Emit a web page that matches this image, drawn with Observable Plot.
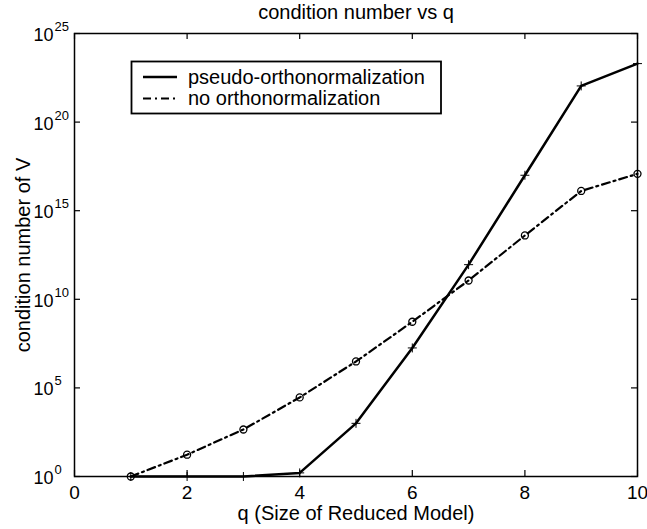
<!DOCTYPE html>
<html><head><meta charset="utf-8">
<script src="https://cdn.jsdelivr.net/npm/d3@7"></script>
<script src="https://cdn.jsdelivr.net/npm/@observablehq/plot@0.6"></script>
<style>
html,body{margin:0;padding:0;background:#fff;}
#chart{width:647px;height:529px;}
</style></head><body><div id="chart"></div>
<script>
// ---- data ----
const q = [1, 2, 3, 4, 5, 6, 7, 8, 9, 10];
const pseudoOrtho = [1, 1, 1, 1.6, 1e3, 1.8e7, 9e11, 1e17, 1.1e22, 2e23];
const noOrtho = [1, 17, 450, 2.9e4, 3.1e6, 5.4e8, 1.15e11, 4e13, 1.3e16, 1.2e17];
const xTicks = [0, 2, 4, 6, 8, 10];
const yTickExponents = [0, 5, 10, 15, 20, 25];
const seriesNames = ["pseudo-orthonormalization", "no orthonormalization"];
const title = "condition number vs q";
const xLabel = "q (Size of Reduced Model)";
const yLabel = "condition number of V";

// ---- derived tables ----
const rowsA = q.map((x, i) => ({q: x, v: pseudoOrtho[i]}));
const rowsB = q.map((x, i) => ({q: x, v: noOrtho[i]}));
const yTicks = yTickExponents.map(e => 10 ** e);

const W = 647, H = 529, mL = 74, mR = 10, mT = 33, mB = 53;
const fw = W - mL - mR, fh = H - mT - mB;
const tickLen = 6;
const font = "'Liberation Sans', Arial, Helvetica, sans-serif";
const dashDot = "8,4,2,4";

const chart = Plot.plot({
  width: W, height: H,
  marginLeft: mL, marginRight: mR, marginTop: mT, marginBottom: mB,
  style: {fontFamily: font, background: "white", color: "black"},
  x: {domain: [0, 10], axis: null},
  y: {type: "log", domain: [1, 1e25], axis: null},
  marks: [
    Plot.line(rowsB, {x: "q", y: "v", stroke: "black", strokeWidth: 2.2, strokeDasharray: dashDot}),
    Plot.dot(rowsB, {x: "q", y: "v", r: 3.5, stroke: "black", strokeWidth: 1.3, fill: "none"}),
    Plot.line(rowsA, {x: "q", y: "v", stroke: "black", strokeWidth: 2.5}),
    Plot.dot(rowsA, {x: "q", y: "v", symbol: "plus", r: 3, stroke: "black", strokeWidth: 1}),
    Plot.frame({stroke: "black", strokeWidth: 1.5}),
    // inside ticks on all four sides
    Plot.tickX(xTicks, {x: d => d, insetTop: fh - tickLen, stroke: "black", strokeWidth: 1.2}),
    Plot.tickX(xTicks, {x: d => d, insetBottom: fh - tickLen, stroke: "black", strokeWidth: 1.2}),
    Plot.tickY(yTicks, {y: d => d, insetRight: fw - tickLen, stroke: "black", strokeWidth: 1.2}),
    Plot.tickY(yTicks, {y: d => d, insetLeft: fw - tickLen, stroke: "black", strokeWidth: 1.2}),
    // x tick labels
    Plot.text(xTicks, {x: d => d, frameAnchor: "bottom", text: d => String(d), textAnchor: "middle", lineAnchor: "bottom", dy: 22, fontSize: 19}),
    // y tick labels: 10 with superscript exponent
    Plot.text(yTickExponents, {y: e => 10 ** e, frameAnchor: "left", text: () => "10", textAnchor: "end", lineAnchor: "bottom", dx: -21, dy: 7.5, fontSize: 18}),
    Plot.text(yTickExponents, {y: e => 10 ** e, frameAnchor: "left", text: e => String(e), textAnchor: "start", lineAnchor: "bottom", dx: -20, dy: -2.5, fontSize: 13}),
    // title and axis labels
    Plot.text([title], {frameAnchor: "top", text: d => d, textAnchor: "middle", lineAnchor: "bottom", dy: -15, fontSize: 20}),
    Plot.text([xLabel], {frameAnchor: "bottom", text: d => d, textAnchor: "middle", lineAnchor: "bottom", dy: 43, fontSize: 20}),
    Plot.text([yLabel], {frameAnchor: "left", text: d => d, textAnchor: "middle", rotate: -90, lineAnchor: "bottom", dx: -45, fontSize: 20})
  ]
});

// ---- legend (inside the plot box, top-left) ----
const svg = d3.select(chart);
const lg = svg.append("g").attr("font-family", font).attr("font-size", 20).attr("text-anchor", "start");
lg.append("rect").attr("x", 131.5).attr("y", 61.5).attr("width", 309.5).attr("height", 52)
  .attr("fill", "white").attr("stroke", "black").attr("stroke-width", 1.8);
const legendStyles = [{dash: null, w: 2.5}, {dash: dashDot, w: 2.2}];
seriesNames.forEach((name, i) => {
  const cy = 77 + i * 21.5;
  const ln = lg.append("line").attr("x1", 143).attr("x2", 177).attr("y1", cy).attr("y2", cy)
    .attr("stroke", "black").attr("stroke-width", legendStyles[i].w);
  if (legendStyles[i].dash) ln.attr("stroke-dasharray", legendStyles[i].dash);
  lg.append("text").attr("x", 188).attr("y", cy + 6.5).attr("text-anchor", "start").attr("fill", "black").text(name);
});

document.getElementById("chart").appendChild(chart);
</script>
</body></html>
